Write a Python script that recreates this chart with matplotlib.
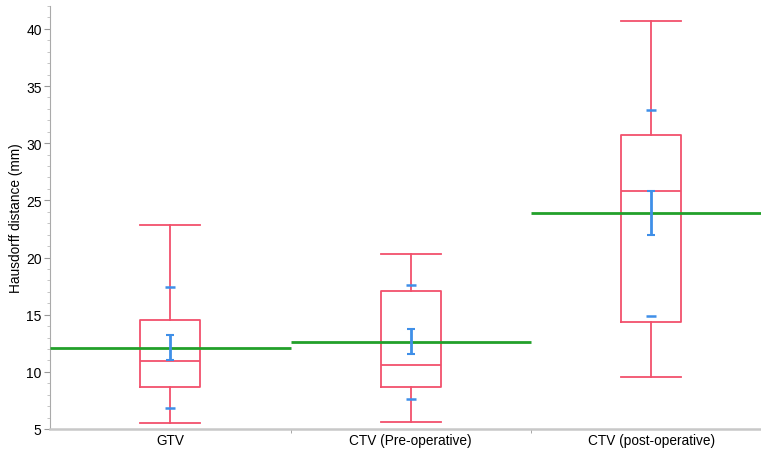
import numpy as np
import matplotlib.pyplot as plt
from matplotlib.ticker import MultipleLocator

plt.rcParams['font.family'] = ['Liberation Sans', 'DejaVu Sans']

# 数据
groups = ['GTV', 'CTV (Pre-operative)', 'CTV (post-operative)']
whisker_low = [5.5, 5.6, 9.55]
q1 = [8.7, 8.7, 14.35]
median = [10.95, 10.6, 25.85]
q3 = [14.5, 17.05, 30.7]
whisker_high = [22.85, 20.3, 40.7]
mean = [12.1, 12.64, 23.93]
ci_low = [11.0, 11.55, 22.0]
ci_high = [13.2, 13.75, 25.8]
tick_low = [6.8, 7.6, 14.9]
tick_high = [17.4, 17.6, 32.9]

red = '#f2506c'
blue = '#3f8fe8'
green = '#22a02a'
grey = '#c8c8c8'

fig = plt.figure(figsize=(7.61, 4.52), dpi=100)
ax = fig.add_axes([50 / 761, 1 - 430 / 452, 711 / 761, 423 / 452])

pos = np.arange(len(groups))
stats = []
for i in range(len(groups)):
	stats.append(dict(whislo=whisker_low[i], q1=q1[i], med=median[i],
	                  q3=q3[i], whishi=whisker_high[i], fliers=[]))

ax.bxp(stats, positions=pos, widths=0.25, showfliers=False,
       boxprops=dict(color=red, linewidth=1.3),
       whiskerprops=dict(color=red, linewidth=1.3),
       capprops=dict(color=red, linewidth=1.3),
       medianprops=dict(color=red, linewidth=1.3),
       capwidths=0.25)

# 均值线（横跨整个类别）
ax.hlines(mean, pos - 0.5, pos + 0.5, color=green, linewidth=2, zorder=3)

# 均值置信区间
ax.errorbar(pos, mean,
            yerr=[np.array(mean) - np.array(ci_low), np.array(ci_high) - np.array(mean)],
            fmt='none', ecolor=blue, elinewidth=2, capsize=3, capthick=1.5, zorder=4)

# 蓝色短线标记
ax.scatter(pos, tick_low, marker='_', s=45, color=blue, linewidths=1.8, zorder=4)
ax.scatter(pos, tick_high, marker='_', s=45, color=blue, linewidths=1.8, zorder=4)

ax.set_xlim(-0.5, -0.5 + 711 / 240.5)
ax.set_ylim(5, 42)

ax.set_xticks(pos)
ax.set_xticklabels(groups, fontsize=9.8)
ax.set_xticks([0.5, 1.5], minor=True)
ax.tick_params(axis='x', which='major', length=0, pad=3)
ax.tick_params(axis='x', which='minor', length=3, color='#999999')

ax.yaxis.set_major_locator(MultipleLocator(5))
ax.yaxis.set_minor_locator(MultipleLocator(1))
ax.tick_params(axis='y', which='major', length=4, color='#999999', labelsize=10, pad=2)
ax.tick_params(axis='y', which='minor', length=2.5, color='#bbbbbb')
ax.set_ylabel('Hausdorff distance (mm)', fontsize=9.8, labelpad=2)

ax.spines['right'].set_visible(False)
ax.spines['top'].set_visible(False)
ax.spines['left'].set_color('#aaaaaa')
ax.spines['left'].set_linewidth(0.8)
ax.spines['bottom'].set_color(grey)
ax.spines['bottom'].set_linewidth(1.8)

plt.savefig('out.png', dpi=100)
plt.close()
